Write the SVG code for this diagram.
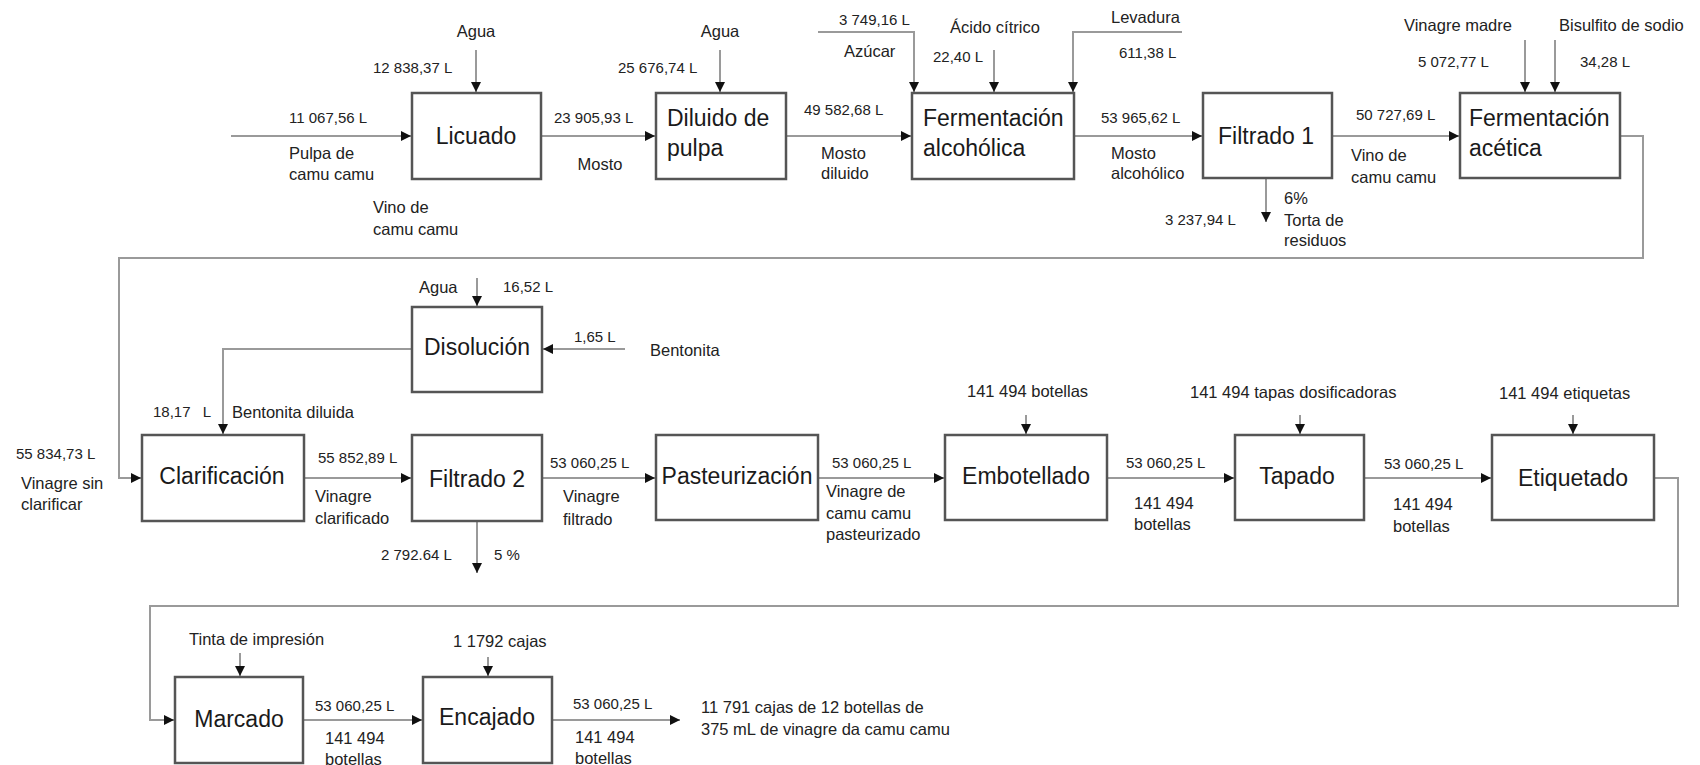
<svg xmlns="http://www.w3.org/2000/svg" width="1700" height="765" viewBox="0 0 1700 765">
<style>
.bg{fill:#ffffff}
.box{fill:#ffffff;stroke:#555555;stroke-width:2.5}
.c{fill:none;stroke:#9a9a9a;stroke-width:2}
.a{marker-end:url(#ah)}
text{font-family:"Liberation Sans",Arial,sans-serif;fill:#222222}
.t{font-size:16.5px}
.n{font-size:15px}
.nd{font-size:23px;fill:#1a1a1a}
.m{text-anchor:middle}
</style>
<defs>
<marker id="ah" markerUnits="userSpaceOnUse" markerWidth="11" markerHeight="11" refX="10" refY="5" orient="auto">
<path d="M0,0 L10,5 L0,10 z" fill="#111111"/>
</marker>
</defs>
<rect class="bg" x="0" y="0" width="1700" height="765"/>

<g id="connectors">
<path class="c a" d="M231,136 H411"/>
<path class="c a" d="M541,136 H655"/>
<path class="c a" d="M476,50 V92"/>
<path class="c a" d="M720,50 V92"/>
<path class="c a" d="M786,136 H911"/>
<path class="c a" d="M818,32 H914 V92"/>
<path class="c a" d="M994,50 V92"/>
<path class="c a" d="M1182,32 H1073 V92"/>
<path class="c a" d="M1074,136 H1202"/>
<path class="c a" d="M1266,178 V222"/>
<path class="c a" d="M1332,136 H1459"/>
<path class="c a" d="M1525,40 V92"/>
<path class="c a" d="M1555,40 V92"/>
<path class="c a" d="M1620,136 H1643 V258 H119 V478 H141"/>
<path class="c a" d="M477,278 V306"/>
<path class="c a" d="M625,349 H543"/>
<path class="c a" d="M412,349 H223 V434"/>
<path class="c a" d="M304,478 H411"/>
<path class="c a" d="M477,521 V573"/>
<path class="c a" d="M542,478 H655"/>
<path class="c a" d="M818,478 H944"/>
<path class="c a" d="M1026,415 V434"/>
<path class="c a" d="M1107,478 H1234"/>
<path class="c a" d="M1300,415 V434"/>
<path class="c a" d="M1364,478 H1491"/>
<path class="c a" d="M1573,415 V434"/>
<path class="c a" d="M1654,478 H1678 V606 H150 V720 H174"/>
<path class="c a" d="M240,653 V676"/>
<path class="c a" d="M303,720 H422"/>
<path class="c a" d="M488,657 V676"/>
<path class="c a" d="M552,720 H680"/>
</g>

<g id="licuado"><rect class="box" x="412" y="93" width="129" height="86"/><text class="nd m" x="476" y="144">Licuado</text></g>
<g id="diluido"><rect class="box" x="656" y="93" width="130" height="86"/><text class="nd" x="667" y="126">Diluido de</text><text class="nd" x="667" y="156">pulpa</text></g>
<g id="ferm-alcoholica"><rect class="box" x="912" y="93" width="162" height="86"/><text class="nd" x="923" y="126">Fermentación</text><text class="nd" x="923" y="156">alcohólica</text></g>
<g id="filtrado1"><rect class="box" x="1203" y="93" width="129" height="85"/><text class="nd m" x="1266" y="144">Filtrado 1</text></g>
<g id="ferm-acetica"><rect class="box" x="1460" y="93" width="160" height="85"/><text class="nd" x="1469" y="126">Fermentación</text><text class="nd" x="1469" y="156">acética</text></g>
<g id="disolucion"><rect class="box" x="412" y="307" width="130" height="85"/><text class="nd m" x="477" y="355">Disolución</text></g>
<g id="clarificacion"><rect class="box" x="142" y="435" width="162" height="86"/><text class="nd m" x="222" y="484">Clarificación</text></g>
<g id="filtrado2"><rect class="box" x="412" y="435" width="130" height="86"/><text class="nd m" x="477" y="487">Filtrado 2</text></g>
<g id="pasteurizacion"><rect class="box" x="656" y="435" width="162" height="85"/><text class="nd m" x="737" y="484">Pasteurización</text></g>
<g id="embotellado"><rect class="box" x="945" y="435" width="162" height="85"/><text class="nd m" x="1026" y="484">Embotellado</text></g>
<g id="tapado"><rect class="box" x="1235" y="435" width="129" height="85"/><text class="nd m" x="1297" y="484">Tapado</text></g>
<g id="etiquetado"><rect class="box" x="1492" y="435" width="162" height="85"/><text class="nd m" x="1573" y="486">Etiquetado</text></g>
<g id="marcado"><rect class="box" x="175" y="677" width="128" height="86"/><text class="nd m" x="239" y="727">Marcado</text></g>
<g id="encajado"><rect class="box" x="423" y="677" width="129" height="86"/><text class="nd m" x="487" y="725">Encajado</text></g>

<g id="labels">
<text class="t m" x="476" y="37">Agua</text>
<text class="n" x="373" y="73">12 838,37 L</text>
<text class="n" x="289" y="123">11 067,56 L</text>
<text class="t" x="289" y="159">Pulpa de</text>
<text class="t" x="289" y="180">camu camu</text>
<text class="t" x="373" y="213">Vino de</text>
<text class="t" x="373" y="235">camu camu</text>
<text class="n" x="554" y="123">23 905,93 L</text>
<text class="t m" x="600" y="170">Mosto</text>
<text class="t m" x="720" y="37">Agua</text>
<text class="n" x="618" y="73">25 676,74 L</text>
<text class="n" x="804" y="115">49 582,68 L</text>
<text class="t" x="821" y="159">Mosto</text>
<text class="t" x="821" y="179">diluido</text>
<text class="n" x="839" y="25">3 749,16 L</text>
<text class="t" x="844" y="57">Azúcar</text>
<text class="t" x="950" y="33">Ácido cítrico</text>
<text class="n" x="933" y="62">22,40 L</text>
<text class="t" x="1111" y="23">Levadura</text>
<text class="n" x="1119" y="58">611,38 L</text>
<text class="n" x="1101" y="123">53 965,62 L</text>
<text class="t" x="1111" y="159">Mosto</text>
<text class="t" x="1111" y="179">alcohólico</text>
<text class="t" x="1284" y="204">6%</text>
<text class="n" x="1165" y="225">3 237,94 L</text>
<text class="t" x="1284" y="226">Torta de</text>
<text class="t" x="1284" y="246">residuos</text>
<text class="n" x="1356" y="120">50 727,69 L</text>
<text class="t" x="1351" y="161">Vino de</text>
<text class="t" x="1351" y="183">camu camu</text>
<text class="t" x="1404" y="31">Vinagre madre</text>
<text class="t" x="1559" y="31">Bisulfito de sodio</text>
<text class="n" x="1418" y="67">5 072,77 L</text>
<text class="n" x="1580" y="67">34,28 L</text>
<text class="n" x="16" y="459">55 834,73 L</text>
<text class="t" x="21" y="489">Vinagre sin</text>
<text class="t" x="21" y="510">clarificar</text>
<text class="t" x="419" y="293">Agua</text>
<text class="n" x="503" y="292">16,52 L</text>
<text class="n" x="574" y="342">1,65 L</text>
<text class="t" x="650" y="356">Bentonita</text>
<text class="n" x="153" y="417" word-spacing="8">18,17 L</text>
<text class="t" x="232" y="418">Bentonita diluida</text>
<text class="n" x="318" y="463">55 852,89 L</text>
<text class="t" x="315" y="502">Vinagre</text>
<text class="t" x="315" y="524">clarificado</text>
<text class="n" x="381" y="560">2 792.64 L</text>
<text class="n" x="494" y="560">5 %</text>
<text class="n" x="550" y="468">53 060,25 L</text>
<text class="t" x="563" y="502">Vinagre</text>
<text class="t" x="563" y="525">filtrado</text>
<text class="n" x="832" y="468">53 060,25 L</text>
<text class="t" x="826" y="497">Vinagre de</text>
<text class="t" x="826" y="519">camu camu</text>
<text class="t" x="826" y="540">pasteurizado</text>
<text class="t" x="967" y="397">141 494 botellas</text>
<text class="n" x="1126" y="468">53 060,25 L</text>
<text class="t" x="1134" y="509">141 494</text>
<text class="t" x="1134" y="530">botellas</text>
<text class="t" x="1190" y="398">141 494 tapas dosificadoras</text>
<text class="n" x="1384" y="469">53 060,25 L</text>
<text class="t" x="1393" y="510">141 494</text>
<text class="t" x="1393" y="532">botellas</text>
<text class="t" x="1499" y="399">141 494 etiquetas</text>
<text class="t" x="189" y="645">Tinta de impresión</text>
<text class="n" x="315" y="711">53 060,25 L</text>
<text class="t" x="325" y="744">141 494</text>
<text class="t" x="325" y="765">botellas</text>
<text class="t" x="453" y="647">1 1792 cajas</text>
<text class="n" x="573" y="709">53 060,25 L</text>
<text class="t" x="575" y="743">141 494</text>
<text class="t" x="575" y="764">botellas</text>
<text class="t" x="701" y="713">11 791 cajas de 12 botellas de</text>
<text class="t" x="701" y="735">375 mL de vinagre da camu camu</text>
</g>
</svg>
